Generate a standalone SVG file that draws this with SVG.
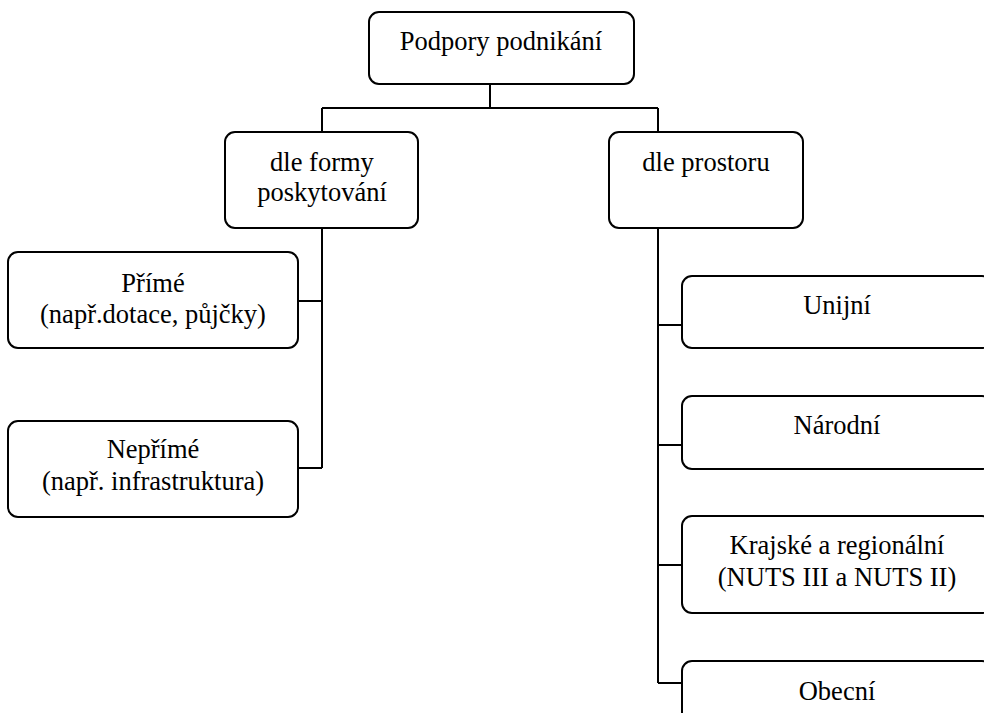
<svg xmlns="http://www.w3.org/2000/svg" width="984" height="713" viewBox="0 0 984 713">
<style>
.box{fill:#fff;stroke:#000;stroke-width:2}
.t{font-family:"Liberation Serif","Times New Roman",serif;font-size:26.5px;fill:#000;text-anchor:middle}
.c{fill:none;stroke:#000;stroke-width:2}
</style>
<rect width="984" height="713" fill="#fff"/>
<g id="connectors" class="c">
<path d="M490 84V108M322 108H658M322 108V132M658 108V132"/>
<path d="M322 228V468M298 301H322M298 468H322"/>
<path d="M658 228V683M658 325H682M658 445H682M658 565H682M658 683H682"/>
</g>
<g id="n-root"><rect class="box" x="369" y="12" width="265" height="72" rx="10"/><text class="t" x="501" y="50">Podpory podnikání</text></g>
<g id="n-forma"><rect class="box" x="225" y="132" width="193" height="96" rx="10"/><text class="t" x="322" y="171">dle formy</text><text class="t" x="322" y="201">poskytování</text></g>
<g id="n-prostor"><rect class="box" x="609" y="132" width="194" height="96" rx="10"/><text class="t" x="706" y="171">dle prostoru</text></g>
<g id="n-prime"><rect class="box" x="8" y="252" width="290" height="96" rx="10"/><text class="t" x="153" y="292">Přímé</text><text class="t" x="153" y="323">(např.dotace, půjčky)</text></g>
<g id="n-neprime"><rect class="box" x="8" y="421" width="290" height="96" rx="10"/><text class="t" x="153" y="458">Nepřímé</text><text class="t" x="153" y="490">(např. infrastruktura)</text></g>
<g id="n-unijni"><rect class="box" x="682" y="276" width="310" height="72" rx="10"/><text class="t" x="837" y="314">Unijní</text></g>
<g id="n-narodni"><rect class="box" x="682" y="396" width="310" height="73" rx="10"/><text class="t" x="837" y="434">Národní</text></g>
<g id="n-krajske"><rect class="box" x="682" y="516" width="310" height="97" rx="10"/><text class="t" x="837" y="554">Krajské a regionální</text><text class="t" x="837" y="586">(NUTS III a NUTS II)</text></g>
<g id="n-obecni"><rect class="box" x="682" y="661" width="310" height="72" rx="10"/><text class="t" x="837" y="700">Obecní</text></g>
</svg>
